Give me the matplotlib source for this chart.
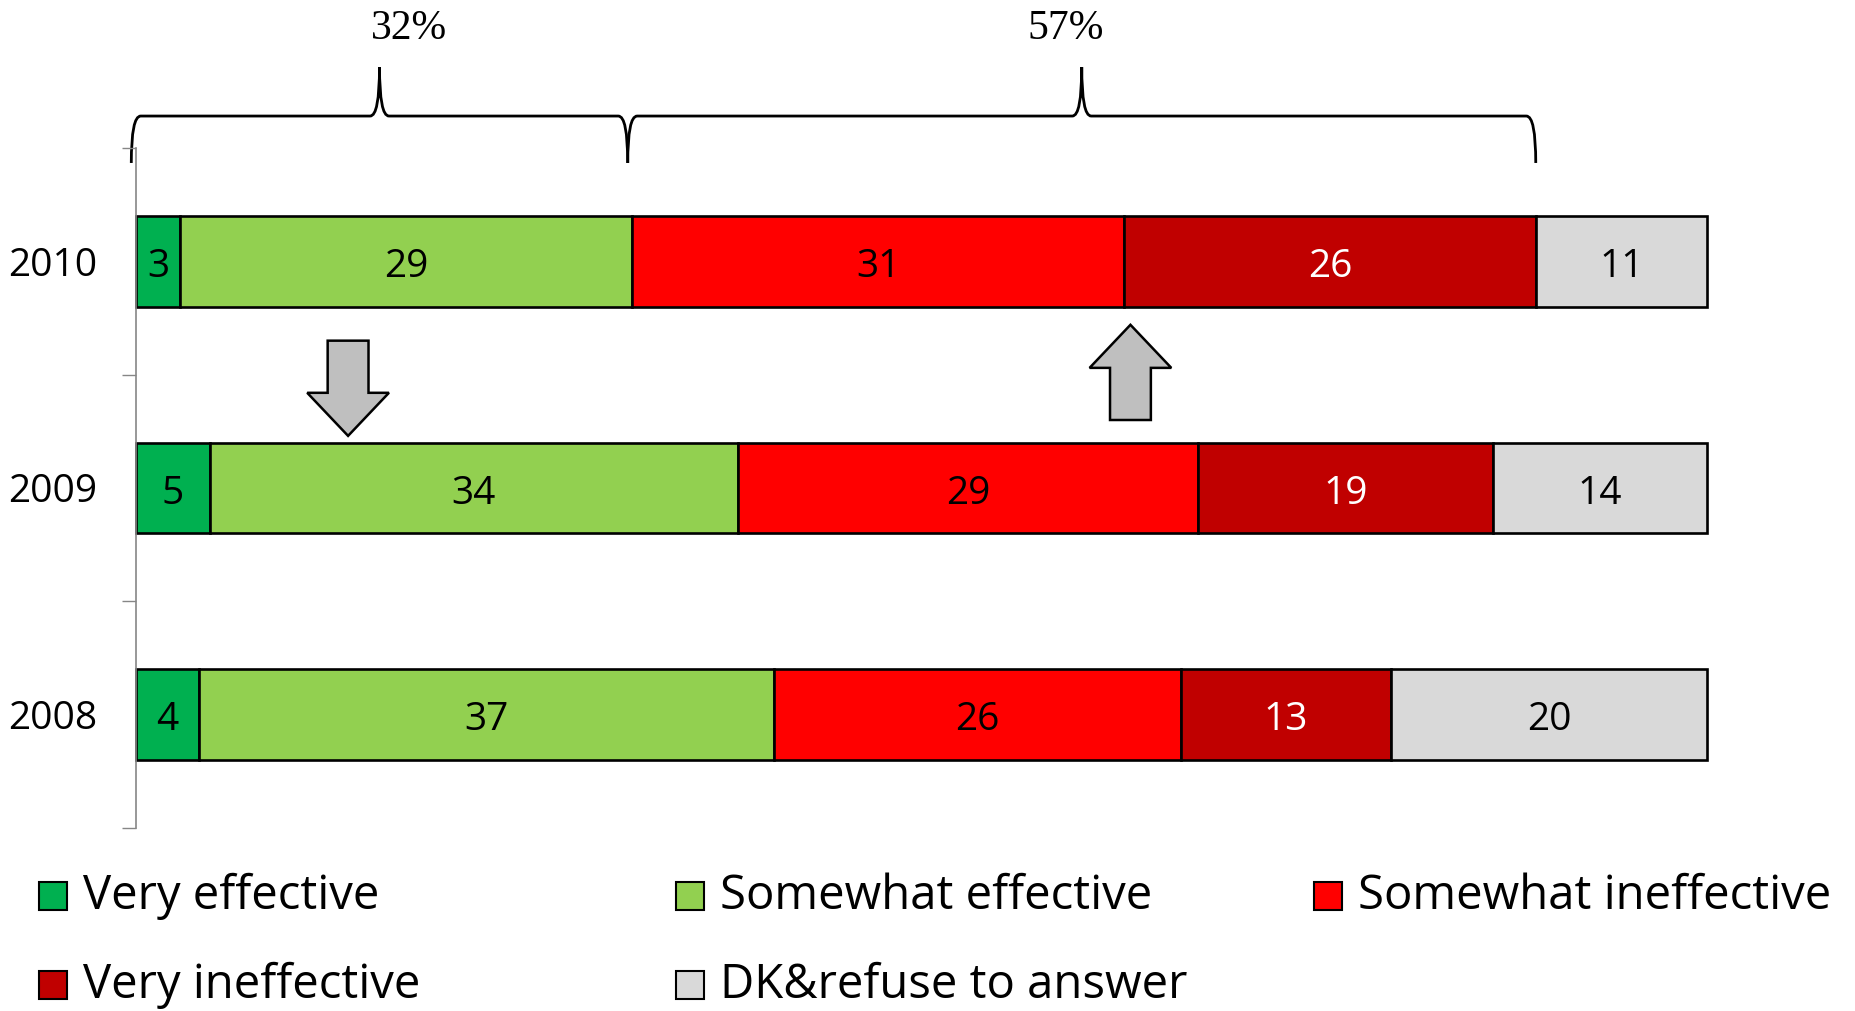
import numpy as np
import matplotlib
matplotlib.use('Agg')
import matplotlib.pyplot as plt
from matplotlib.patches import Rectangle, Polygon, PathPatch
from matplotlib.path import Path
import matplotlib.transforms as mtransforms

plt.rcParams['font.family'] = ['Open Sans', 'DejaVu Sans']

years = ['2010', '2009', '2008']
series = ['Very effective', 'Somewhat effective', 'Somewhat ineffective',
          'Very ineffective', 'DK&refuse to answer']
# shares in % (labels show them rounded)
very_eff = [2.8, 4.7, 4.0]
some_eff = [28.8, 33.6, 36.6]
some_ineff = [31.3, 29.3, 25.9]
very_ineff = [26.2, 18.8, 13.4]
dk = [10.9, 13.6, 20.1]
colors = ['#00B050', '#92D050', '#FF0000', '#C00000', '#D9D9D9']
label_colors = ['black', 'black', 'black', 'white', 'black']

brace_labels = ['32%', '57%']

data = np.array([very_eff, some_eff, some_ineff, very_ineff, dk])

fig = plt.figure(figsize=(18.55, 10.11), dpi=100)
ax = fig.add_axes([136 / 1855, 1 - 828 / 1011, (1707 - 136) / 1855, (828 - 148) / 1011])

ypos = np.array([2, 1, 0])
left = np.zeros(3)
for i in range(len(series)):
    bars = ax.barh(ypos, data[i], left=left, height=0.4, color=colors[i],
                   edgecolor='black', linewidth=1.9, label=series[i], clip_on=False)
    anns = ax.bar_label(bars, labels=[f'{v:.0f}' for v in data[i]], label_type='center',
                        fontsize=28, color=label_colors[i])
    for a in anns:
        a.xyann = (0, -4)
    left += data[i]

ax.set_xlim(0, 100)
ax.set_ylim(-0.5, 2.5)
ax.set_yticks(ypos)
ax.set_yticklabels(years, fontsize=28)
ax.tick_params(axis='y', which='major', length=0, pad=28)
ax.set_yticks([-0.5, 0.5, 1.5, 2.5], minor=True)
ax.tick_params(axis='y', which='minor', length=10, width=1, color='#868686')
ax.set_xticks([])
for s in ['top', 'right', 'bottom']:
    ax.spines[s].set_visible(False)
ax.spines['left'].set_color('#868686')
ax.spines['left'].set_linewidth(1.2)

# braces above the 2010 bar
cum2010 = np.cumsum(data[:, 0])
trans = mtransforms.blended_transform_factory(ax.transData, ax.transAxes)


def brace(x0, x1, label, label_x):
    y_end, y_flat, y_tip = 0.978, 1.047, 1.119
    r = 0.6
    xc = (x0 + x1) / 2
    verts = [(x0, y_end), (x0, y_flat), (x0 + r, y_flat),
             (xc - r, y_flat), (xc, y_flat), (xc, y_tip),
             (xc, y_flat), (xc + r, y_flat),
             (x1 - r, y_flat), (x1, y_flat), (x1, y_end)]
    codes = [Path.MOVETO, Path.CURVE3, Path.CURVE3,
             Path.LINETO, Path.CURVE3, Path.CURVE3,
             Path.CURVE3, Path.CURVE3,
             Path.LINETO, Path.CURVE3, Path.CURVE3]
    ax.add_patch(PathPatch(Path(verts, codes), transform=trans, fill=False,
                           edgecolor='black', linewidth=2, clip_on=False))
    ax.text(label_x, 1.175, label, transform=trans, ha='center', va='center',
            fontsize=30, family='Liberation Serif')


brace(-0.3, cum2010[1] - 0.3, brace_labels[0], 17.4)
brace(cum2010[1] - 0.3, cum2010[3], brace_labels[1], 59.2)


# change arrows
def block_arrow(xc, y_tail, y_tip, shaft_w=1.3, head_w=2.6, head_len=0.19):
    d = np.sign(y_tip - y_tail)
    yb = y_tip - d * head_len
    pts = [(xc - shaft_w, y_tail), (xc - shaft_w, yb), (xc - head_w, yb),
           (xc, y_tip), (xc + head_w, yb), (xc + shaft_w, yb), (xc + shaft_w, y_tail)]
    ax.add_patch(Polygon(pts, closed=True, facecolor='#BFBFBF', edgecolor='black',
                         linewidth=1.8, zorder=3))


block_arrow(13.5, 1.65, 1.23)
block_arrow(63.3, 1.30, 1.72)

# legend drawn by hand to keep the uneven column positions
legend_pos = [(39, 896), (676, 896), (1314, 896), (39, 985), (676, 985)]
for i, (px, py) in enumerate(legend_pos):
    fig.add_artist(Rectangle((px / 1855, 1 - (py + 14) / 1011), 28 / 1855, 28 / 1011,
                             transform=fig.transFigure, facecolor=colors[i],
                             edgecolor='black', linewidth=1.5))
    fig.text((px + 44) / 1855, 1 - py / 1011, series[i], fontsize=34,
             ha='left', va='center')

fig.savefig('out.png', dpi=100, facecolor='white')
